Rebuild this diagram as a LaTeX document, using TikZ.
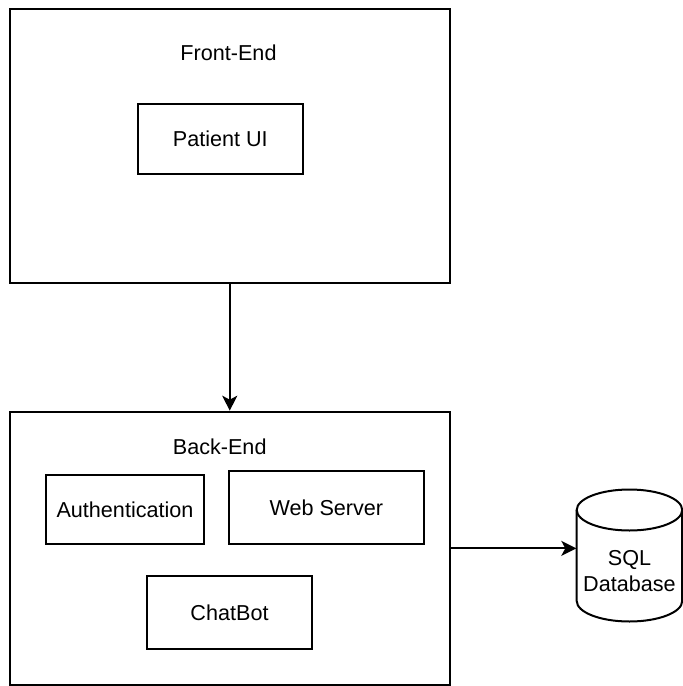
\documentclass[tikz,border=0pt]{standalone}
\usepackage{fontspec}
\setmainfont{Liberation Sans}
\usetikzlibrary{arrows.meta}
\begin{document}
\begin{tikzpicture}[x=0.5pt,y=-0.5pt,
  every node/.style={font=\fontsize{10.8}{13.25}\selectfont, text=black},
  container/.style={draw=black, line width=1pt, inner sep=0pt},
  box/.style={draw=black, line width=1pt, inner sep=0pt, align=center},
  conn/.style={draw=black, line width=1pt, -{Stealth[length=7.5pt,width=7.5pt,inset=2pt]}},
  cyl/.style={draw=black, line width=1pt, fill=white}
]
\useasboundingbox (0,0) rectangle (683,686);

% Front-End container
\node[container, minimum width=219.75pt, minimum height=137pt] (fe) at (229.75,146.25) {};
\node (felabel) at (228.5,53) {Front-End};
\node[box, minimum width=82.65pt, minimum height=34.85pt] (pui) at (220.3,139) {Patient UI};

% Back-End container
\node[container, minimum width=219.75pt, minimum height=136.65pt] (be) at (229.75,548.35) {};
\node (belabel) at (219.7,446.3) {Back-End};
\node[box, minimum width=79pt, minimum height=34.5pt] (auth) at (125,509.5) {Authentication};
\node[box, minimum width=97.35pt, minimum height=36.65pt] (web) at (326.35,507.35) {Web Server};
\node[box, minimum width=82.5pt, minimum height=36.5pt] (chat) at (229.5,612.5) {ChatBot};

% SQL Database cylinder
\draw[cyl] (576.7,510) -- (576.7,601)
  arc[start angle=180,end angle=360,x radius=26.375pt,y radius=10.25pt]
  -- (682.2,510)
  arc[start angle=0,end angle=180,x radius=26.375pt,y radius=10.25pt] -- cycle;
\draw[cyl, fill=none] (576.7,510)
  arc[start angle=180,end angle=360,x radius=26.375pt,y radius=10.25pt];
\node[minimum width=52.75pt, inner sep=0pt, align=center] (db) at (629.45,571) {SQL\\Database};

% connectors
\draw[conn] (fe.south) -- (be.north);
\draw[conn] (be.east) -- (be.east -| db.west);
\end{tikzpicture}
\end{document}
